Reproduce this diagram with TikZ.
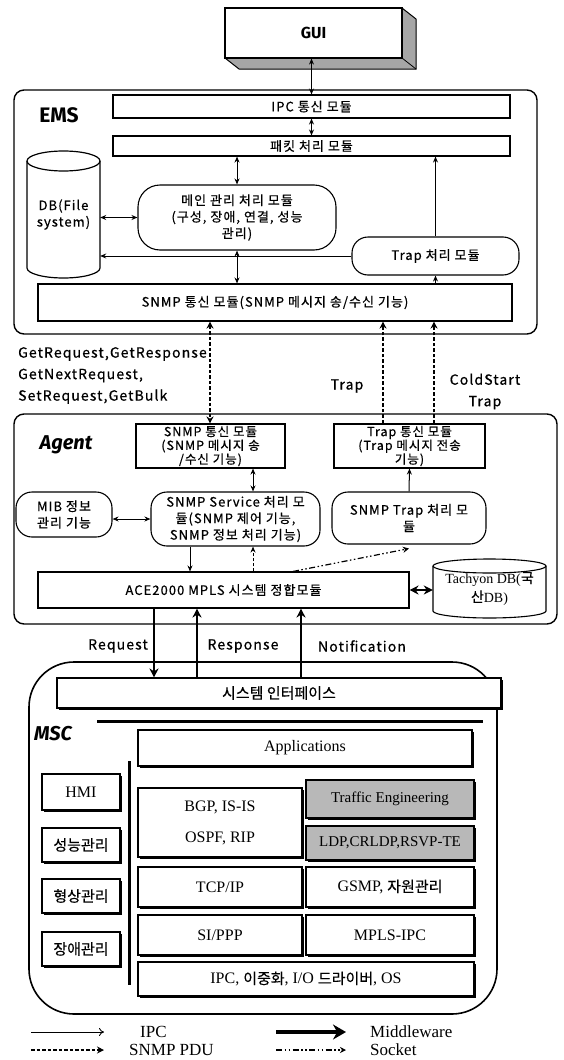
\documentclass[tikz,border=0pt]{standalone}
\usepackage{fontspec}
\setmainfont{Liberation Serif}
\newfontfamily\kr{Noto Sans CJK KR}[LetterSpace=8,FakeBold=0.6]
\newfontfamily\krp{Noto Sans CJK KR}[FakeBold=0.4]
\newfontfamily\ttl{Fira Sans}
\usetikzlibrary{arrows.meta,shadows}
\newcommand\K[1]{{\krp\fontsize{15}{18}\selectfont #1}}
\newcommand\mybox[8]{%
  \node[#1, minimum width={(#6-#4)*1pt}, minimum height={(#7-#5)*1pt}] (#3) at ({(#4+#6)/2},{(#5+#7)/2}) {};
  \node[#2, align=center, inner sep=0pt] (#3t) at (#3.center) {#8};}
\tikzset{
  mfr/.style={draw, line width=1.1pt, fill=white, inner sep=0pt},
  rfr/.style={mfr, rounded corners=16pt},
  obox/.style={draw, line width=1.4pt, rounded corners=10pt, inner sep=0pt},
  shfr/.style={mfr, drop shadow={shadow xshift=1.6pt, shadow yshift=-1.6pt, fill=black, opacity=1}},
  grfr/.style={shfr, fill=black!28},
  ktxt/.style={font=\kr\fontsize{13}{16.5}\selectfont},
  ktxs/.style={font=\kr\fontsize{12.5}{13.8}\selectfont},
  stxt/.style={font=\fontsize{16}{19}\selectfont},
  gtxt/.style={font=\fontsize{15}{18}\selectfont},
  hang/.style={font=\krp\fontsize{15}{18}\selectfont},
  lbl/.style={font=\kr\fontsize{14}{21.5}\selectfont, inner sep=0pt},
  ttlst/.style={font=\ttl\bfseries\fontsize{21}{24}\selectfont, inner sep=0pt},
  arr/.style={line width=1pt, -{Stealth[length=6pt,width=5pt]}},
  darr/.style={line width=1pt, {Stealth[length=6pt,width=5pt]}-{Stealth[length=6pt,width=5pt]}},
  pdu/.style={line width=1.6pt, dash pattern=on 3.5pt off 2pt, -{Stealth[length=7pt,width=7pt]}},
  mw/.style={line width=2.6pt, -{Stealth[length=9pt,width=9pt]}},
  sock/.style={line width=1.2pt, dash pattern=on 6pt off 2.5pt on 1.5pt off 2.5pt on 1.5pt off 2.5pt, -{Stealth[length=6pt,width=6pt]}},
}
\begin{document}
\begin{tikzpicture}[x=1pt,y=-1pt]
\useasboundingbox (0,0) rectangle (563,1060);
\fill[white] (0,0) rectangle (563,1060);
% ---------- GUI ----------
\fill[black!35] (402,8) -- (416,19) -- (416,69) -- (239,69) -- (225,58) -- (402,58) -- cycle;
\draw[line width=1pt] (402,8) -- (416,19) -- (416,69) -- (239,69) -- (225,58);
\draw[line width=0.8pt] (402,58) -- (416,69);
\mybox{mfr, line width=1.2pt}{font=\ttl\bfseries\fontsize{16}{18}\selectfont}{gui}{225}{8}{402}{58}{GUI}
% ---------- EMS ----------
\mybox{obox}{ktxt}{ems}{14}{90}{537}{334}{}
\node[ttlst] (emst) at (59,115) {EMS};
\mybox{mfr}{ktxt}{ipc}{113}{95}{510}{118}{IPC 통신 모듈}
\mybox{mfr}{ktxt}{pkt}{113}{136}{510}{156}{패킷 처리 모듈}
\draw[line width=1.2pt, fill=white] (27,161) -- (27,268) arc[start angle=180, end angle=360, x radius=36.5pt, y radius=10pt] -- (100,161) arc[start angle=0, end angle=180, x radius=36.5pt, y radius=10pt] -- cycle;
\draw[line width=1.2pt] (27,161) arc[start angle=180, end angle=360, x radius=36.5pt, y radius=10pt];
\mybox{draw=none, inner sep=0pt}{ktxt}{db}{27}{151}{100}{278}{DB(File\\system)}
\mybox{rfr, rounded corners=22pt}{ktxt}{main}{138}{185}{336}{250}{메인 관리 처리 모듈\\(구성, 장애, 연결, 성능\\관리)}
\mybox{rfr}{ktxt}{trap}{352}{237}{519}{275}{Trap 처리 모듈}
\mybox{mfr}{ktxt}{snmp}{38}{284}{512}{321}{SNMP 통신 모듈(SNMP 메시지 송/수신 기능)}
\draw[darr] (ipc.north |- gui.south) -- (ipc.north);
\draw[darr] (ipc.south) -- (pkt.north);
\draw[darr] (pkt.south -| main.north) -- (main.north);
\draw[darr] (db.east |- main.west) -- (main.west);
\draw[darr] (main.south) -- (snmp.north -| main.south);
\draw[arr] (trap.west) -- (db.east |- trap.west);
\draw[arr] (trap.north) -- (pkt.south -| trap.north);
\draw[arr] (snmp.north -| trap.south) -- (trap.south);
% ---------- labels between ----------
\node[lbl, anchor=west, align=left] (getl) at (18,375.5) {GetRequest,GetResponse\\GetNextRequest,\\SetRequest,GetBulk};
\node[lbl] (trapl) at (347,386) {Trap};
\node[lbl, align=center] (cold) at (485,391.5) {ColdStart\\Trap};
% ---------- Agent ----------
\mybox{obox}{ktxt}{agent}{14}{414}{557}{624}{}
\node[ttlst, font=\ttl\bfseries\itshape\fontsize{20}{24}\selectfont] (agentt) at (66,445) {Agent};
\mybox{mfr}{ktxs}{asnmp}{136}{424}{285}{468}{SNMP 통신 모듈\\(SNMP 메시지 송\\/수신 기능)}
\mybox{mfr}{ktxs}{atrap}{334}{424}{485}{468}{Trap 통신 모듈\\(Trap 메시지 전송\\기능)}
\mybox{rfr}{ktxt}{mib}{16}{492}{112}{537}{MIB 정보\\관리 기능}
\mybox{rfr}{ktxt}{svc}{151}{492}{320}{546}{SNMP Service 처리 모\\듈(SNMP 제어 기능,\\SNMP 정보 처리 기능)}
\mybox{rfr}{ktxt}{tproc}{332}{492}{486}{544}{SNMP Trap 처리 모\\듈}
\mybox{mfr}{ktxt}{ace}{38}{572}{409}{608}{ACE2000 MPLS 시스템 정합모듈}
\draw[line width=1.1pt, fill=white] (433,566) -- (433,611) arc[start angle=180, end angle=360, x radius=56.5pt, y radius=7pt] -- (546,566) arc[start angle=0, end angle=180, x radius=56.5pt, y radius=7pt] -- cycle;
\draw[line width=1.1pt] (433,566) arc[start angle=180, end angle=360, x radius=56.5pt, y radius=7pt];
\mybox{draw=none, inner sep=0pt}{font=\fontsize{14}{19}\selectfont}{tdb}{433}{559}{546}{618}{Tachyon DB({\krp 국}\\{\krp 산}DB)}
\coordinate (x210) at (210,0);
\coordinate (x383) at (383,0);
\coordinate (x434) at (434,0);
\coordinate (x253) at (253,0);
\coordinate (x190) at (190,0);
\coordinate (x293) at (293,0);
\coordinate (x154) at (154,0);
\coordinate (x197) at (197,0);
\coordinate (x301) at (301,0);
\draw[pdu, {Stealth[length=7pt,width=7pt]}-{Stealth[length=7pt,width=7pt]}] (snmp.south -| x210) -- (asnmp.north -| x210);
\draw[pdu] (atrap.north -| x383) -- (snmp.south -| x383);
\draw[pdu] (atrap.north -| x434) -- (snmp.south -| x434);
\draw[darr] (asnmp.south -| x253) -- (svc.north -| x253);
\draw[darr] (mib.east |- svc.west) -- (svc.west);
\draw[arr] (tproc.north) -- (atrap.south);
\draw[arr] (svc.south -| x190) -- (ace.north -| x190);
\draw[arr, dash pattern=on 3pt off 2pt] (ace.north -| x253) -- (svc.south -| x253);
\draw[sock] (ace.north -| x293) -- ([yshift=-4pt]tproc.south);
\draw[mw, {Stealth[length=9pt,width=9pt]}-{Stealth[length=9pt,width=9pt]}] (ace.east) -- (tdb.west |- ace.east);
% ---------- MSC ----------
\mybox{obox, rounded corners=45pt, line width=1.6pt}{stxt}{msc}{29}{662}{497}{1014}{}
\mybox{shfr}{hang}{sif}{57}{678}{501}{708}{시스템 인터페이스}
\draw[mw] (ace.south -| x154) -- (sif.north -| x154);
\draw[mw] (sif.north -| x197) -- (ace.south -| x197);
\draw[mw] (sif.north -| x301) -- (ace.south -| x301);
\node[lbl] (reql) at (118,646) {Request};
\node[lbl] (resl) at (243,646) {Response};
\node[lbl] (notl) at (362,646) {Notification};
\draw[line width=3pt] (97,721.5) -- (483,721.5);
\draw[line width=3pt] (129,761) -- (129,985);
\node[ttlst, font=\ttl\bfseries\itshape\fontsize{20}{24}\selectfont] (msct) at (53,734) {MSC};
\mybox{shfr}{stxt}{app}{138}{730}{472}{766}{Applications}
\mybox{shfr}{stxt}{hmi}{42}{774}{120}{810}{HMI}
\mybox{shfr}{hang}{perf}{42}{828}{120}{862}{성능관리}
\mybox{shfr}{hang}{conf}{42}{879}{120}{913}{형상관리}
\mybox{shfr}{hang}{fault}{42}{932}{120}{966}{장애관리}
\mybox{shfr}{stxt}{bgp}{138}{788}{302}{857}{BGP, IS-IS\\[12pt]OSPF, RIP}
\mybox{grfr}{gtxt}{te}{306}{780}{474}{818}{Traffic Engineering}
\mybox{grfr}{gtxt}{ldp}{306}{826}{474}{860}{LDP,CRLDP,RSVP-TE}
\mybox{shfr}{stxt}{tcp}{138}{867}{302}{907}{TCP/IP}
\mybox{shfr}{stxt}{gsmp}{306}{867}{474}{907}{GSMP, \K{자원관리}}
\mybox{shfr}{stxt}{si}{138}{915}{302}{955}{SI/PPP}
\mybox{shfr}{stxt}{mpls}{306}{915}{474}{955}{MPLS-IPC}
\mybox{shfr}{stxt}{os}{138}{962}{474}{996}{IPC, \K{이중화}, I/O \K{드라이버}, OS}
% ---------- legend ----------
\coordinate (la1) at (31,1032); \coordinate (lb1) at (104,1032);
\coordinate (lc1) at (276,1032); \coordinate (ld1) at (346,1032);
\coordinate (la2) at (31,1050); \coordinate (lb2) at (104,1050);
\coordinate (lc2) at (276,1050); \coordinate (ld2) at (346,1050);
\draw[line width=0.9pt, -{To[length=5pt,width=8pt]}] (la1) -- (lb1);
\draw[line width=4.5pt, -{Stealth[length=13pt,width=15pt]}] (lc1) -- (ld1);
\draw[pdu] (la2) -- (lb2);
\draw[sock] (lc2) -- (ld2);
\node[anchor=west, font=\fontsize{17}{19}\selectfont, inner sep=0pt] (lipc) at (140,1032) {IPC};
\node[anchor=west, font=\fontsize{17}{19}\selectfont, inner sep=0pt] (lmw) at (370,1032) {Middleware};
\node[anchor=west, font=\fontsize{17}{19}\selectfont, inner sep=0pt] (lpdu) at (129,1050) {SNMP PDU};
\node[anchor=west, font=\fontsize{17}{19}\selectfont, inner sep=0pt] (lsock) at (370,1050) {Socket};
\end{tikzpicture}
\end{document}
